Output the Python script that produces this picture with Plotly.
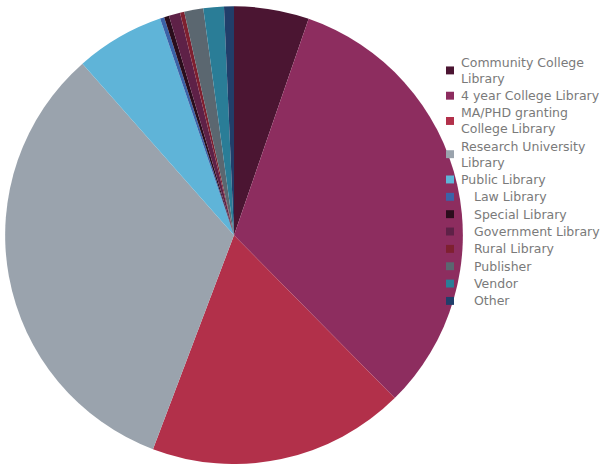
import plotly.graph_objects as go

labels = [
    "Community College<br>Library",
    "4 year College Library",
    "MA/PHD granting<br>College Library",
    "Research University<br>Library",
    "Public Library",
    "Law Library",
    "Special Library",
    "Government Library",
    "Rural Library",
    "Publisher",
    "Vendor",
    "Other",
]
counts = [53, 324, 182, 328, 63, 3, 3.5, 8, 3, 13.5, 14.5, 7]
colors = [
    "#4b1532", "#8d2d5f", "#b2304a", "#9aa3ad", "#5fb4d8", "#3b62a8",
    "#2a0d1c", "#5e2147", "#7e2030", "#5b6770", "#2a7d97", "#213e6a",
]
# the reference legend pushes the last seven names a little to the right
indented = [False] * 5 + [True] * 7

W, H = 606, 464

fig = go.Figure(
    go.Pie(
        labels=labels,
        values=counts,
        sort=False,
        direction="clockwise",
        rotation=0,
        textinfo="none",
        marker=dict(colors=colors, line=dict(width=0)),
        domain=dict(x=[0.0066, 0.7657], y=[0, 0.995]),
        showlegend=False,
    )
)

# hand-drawn legend so the spacing matches the original
y = 67
prev_extra = 0
for i, (lab, col, ind) in enumerate(zip(labels, colors, indented)):
    extra = lab.count("<br>")
    if i > 0:
        y += 17.5 + 8 * (extra + prev_extra)
    prev_extra = extra
    fig.add_shape(
        type="rect", xref="paper", yref="paper",
        x0=446 / W, x1=454 / W, y0=1 - (y - 4) / H, y1=1 - (y + 4) / H,
        fillcolor=col, line=dict(width=0),
    )
    fig.add_annotation(
        x=(472 if ind else 459) / W, y=1 - y / H, xref="paper", yref="paper",
        text=lab, showarrow=False, xanchor="left", yanchor="middle", align="left",
        font=dict(family="DejaVu Sans", size=12.5, color="#7a7a7a"),
    )

fig.update_layout(
    width=W,
    height=H,
    margin=dict(l=0, r=0, t=4, b=0),
    paper_bgcolor="white",
    plot_bgcolor="white",
)

fig.write_html(
    "out.html",
    config={"displayModeBar": False},
    post_script="document.body.style.margin='0';",
)
